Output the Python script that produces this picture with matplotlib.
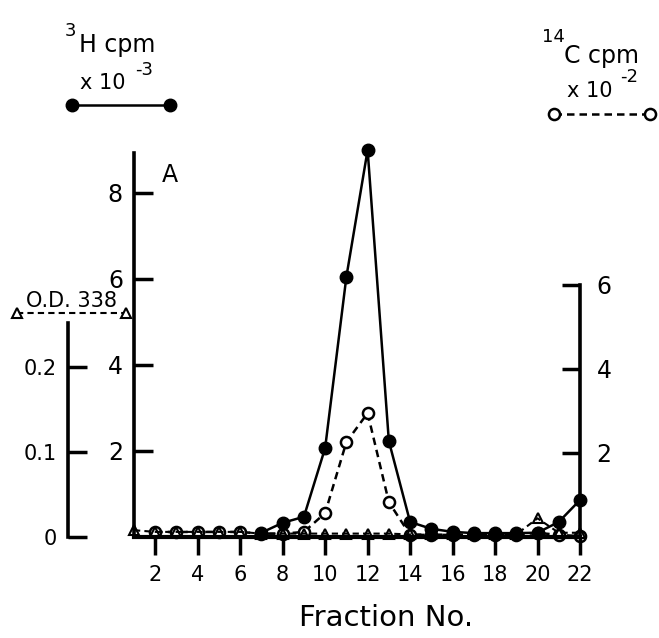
import matplotlib.pyplot as plt
from matplotlib.lines import Line2D

# fraction numbers and measured values
h3_fractions = [7, 8, 9, 10, 11, 12, 13, 14, 15, 16, 17, 18, 19, 20, 21, 22]
h3_cpm = [0.1, 0.33, 0.47, 2.07, 6.05, 9.0, 2.23, 0.35, 0.19, 0.12,
          0.09, 0.09, 0.09, 0.1, 0.35, 0.86]  # x 10^-3

c14_fractions = [2, 3, 4, 5, 6, 7, 8, 9, 10, 11, 12, 13, 14, 15, 16, 17,
                 18, 19, 20, 21, 22]
c14_cpm = [0.12, 0.12, 0.12, 0.12, 0.12, 0.08, 0.08, 0.12, 0.57, 2.26,
           2.95, 0.83, 0.05, 0.05, 0.05, 0.05, 0.05, 0.05, 0.1, 0.05,
           0.02]  # x 10^-2

od_fractions = [1, 2, 3, 4, 5, 6, 7, 8, 9, 10, 11, 12, 13, 14, 15, 16, 17,
                18, 19, 20, 21, 22]
od_338 = [0.008, 0.006, 0.006, 0.006, 0.006, 0.006, 0.004, 0.004, 0.004,
          0.004, 0.004, 0.004, 0.004, 0.003, 0.003, 0.003, 0.003, 0.003,
          0.003, 0.022, 0.005, 0.005]

x_ticks = [2, 4, 6, 8, 10, 12, 14, 16, 18, 20, 22]
h3_ticks = [2, 4, 6, 8]
c14_ticks = [2, 4, 6]
od_ticks = [0, 0.1, 0.2]
od_labels = ['0', '0.1', '0.2']

W, H = 659, 638
PT = 100 / 72  # pixels per point


def fx(x):
    return x / W


def fy(y):
    return 1 - y / H


fig = plt.figure(figsize=(W / 100, H / 100), dpi=100)
plt.rcParams['font.family'] = 'DejaVu Sans'

left, right, bottom, top = 134, 580, 537, 130
ax = fig.add_axes([fx(left), fy(bottom), (right - left) / W, (bottom - top) / H])
ax_c = ax.twinx()
ax_od = ax.twinx()
ax_c.set_zorder(1)
ax.set_zorder(2)
ax_od.set_zorder(3)
for a in (ax, ax_c, ax_od):
    a.patch.set_visible(False)

ax_h = bottom - top

# 3H axis (left)
ax.set_xlim(1, 22)
ax.set_ylim(0, ax_h / 43)
ax.spines['top'].set_visible(False)
ax.spines['right'].set_visible(False)
ax.spines['left'].set_bounds(0, 8.93)
ax.spines['left'].set_linewidth(2.6)
ax.spines['bottom'].set_linewidth(3)
ax.set_xticks(x_ticks)
ax.set_yticks(h3_ticks)
ax.tick_params(axis='x', direction='out', length=13, width=2.5,
               labelsize=15, pad=7)
ax.tick_params(axis='y', direction='in', length=14, width=2.5,
               labelsize=17, pad=8)
ax.set_xlabel('Fraction No.', fontsize=21)
ax.xaxis.set_label_coords(0.565, -0.165)

# 14C axis (right)
ax_c.set_ylim(0, ax_h / 42)
for s in ('top', 'bottom', 'left'):
    ax_c.spines[s].set_visible(False)
ax_c.spines['right'].set_bounds(0, 6)
ax_c.spines['right'].set_linewidth(2.6)
ax_c.set_yticks(c14_ticks)
ax_c.tick_params(axis='y', direction='in', length=13, width=2.5,
                 labelsize=17, pad=12)

# O.D. axis, offset to the left
ax_od.set_ylim(0, ax_h / 850)
for s in ('top', 'bottom', 'right'):
    ax_od.spines[s].set_visible(False)
ax_od.spines['left'].set_visible(True)
ax_od.spines['left'].set_position(('outward', (left - 68) / PT))
ax_od.spines['left'].set_bounds(0, 0.2518)
ax_od.spines['left'].set_linewidth(2.6)
ax_od.yaxis.tick_left()
ax_od.set_yticks(od_ticks)
ax_od.set_yticklabels(od_labels)
ax_od.tick_params(axis='y', direction='in', length=14, width=2.5,
                  labelsize=15, pad=8)

# curves
ax_c.plot(c14_fractions, c14_cpm, color='black', lw=1.8,
          linestyle=(0, (3, 2)), marker='o', markersize=8,
          markerfacecolor='white', markeredgewidth=1.8, clip_on=False)
ax.plot(h3_fractions, h3_cpm, color='black', lw=1.8, marker='o',
        markersize=9, clip_on=False)
ax_od.plot(od_fractions, od_338, color='black', lw=1.5,
           linestyle=(0, (3, 2)), marker='^', markersize=7,
           markerfacecolor='none', markeredgewidth=1.5, clip_on=False)

ax.text(fx(170), fy(175), 'A', transform=fig.transFigure, fontsize=17,
        ha='center', va='center')

# series keys
fig.text(fx(70), fy(31), '3', fontsize=13, ha='center', va='center')
fig.text(fx(79), fy(45), 'H cpm', fontsize=17, ha='left', va='center')
fig.text(fx(80), fy(83), 'x 10', fontsize=15, ha='left', va='center')
fig.text(fx(144), fy(70), '-3', fontsize=13, ha='center', va='center')
fig.add_artist(Line2D([fx(72), fx(170)], [fy(105), fy(105)], color='black',
                      lw=1.8, marker='o', markersize=9))

fig.text(fx(553), fy(37), '14', fontsize=13, ha='center', va='center')
fig.text(fx(564), fy(56), 'C cpm', fontsize=17, ha='left', va='center')
fig.text(fx(567), fy(91), 'x 10', fontsize=15, ha='left', va='center')
fig.text(fx(629), fy(77), '-2', fontsize=13, ha='center', va='center')
fig.add_artist(Line2D([fx(554), fx(650)], [fy(114), fy(114)], color='black',
                      lw=1.8, linestyle=(0, (3, 2)), marker='o', markersize=8,
                      markerfacecolor='white', markeredgewidth=1.8))

fig.text(fx(71), fy(301), 'O.D. 338', fontsize=15, ha='center', va='center')
fig.add_artist(Line2D([fx(17), fx(126)], [fy(313), fy(313)], color='black',
                      lw=1.5, linestyle=(0, (3, 2)), marker='^', markersize=7,
                      markerfacecolor='white', markeredgewidth=1.5))

fig.savefig('out.png', dpi=100)
